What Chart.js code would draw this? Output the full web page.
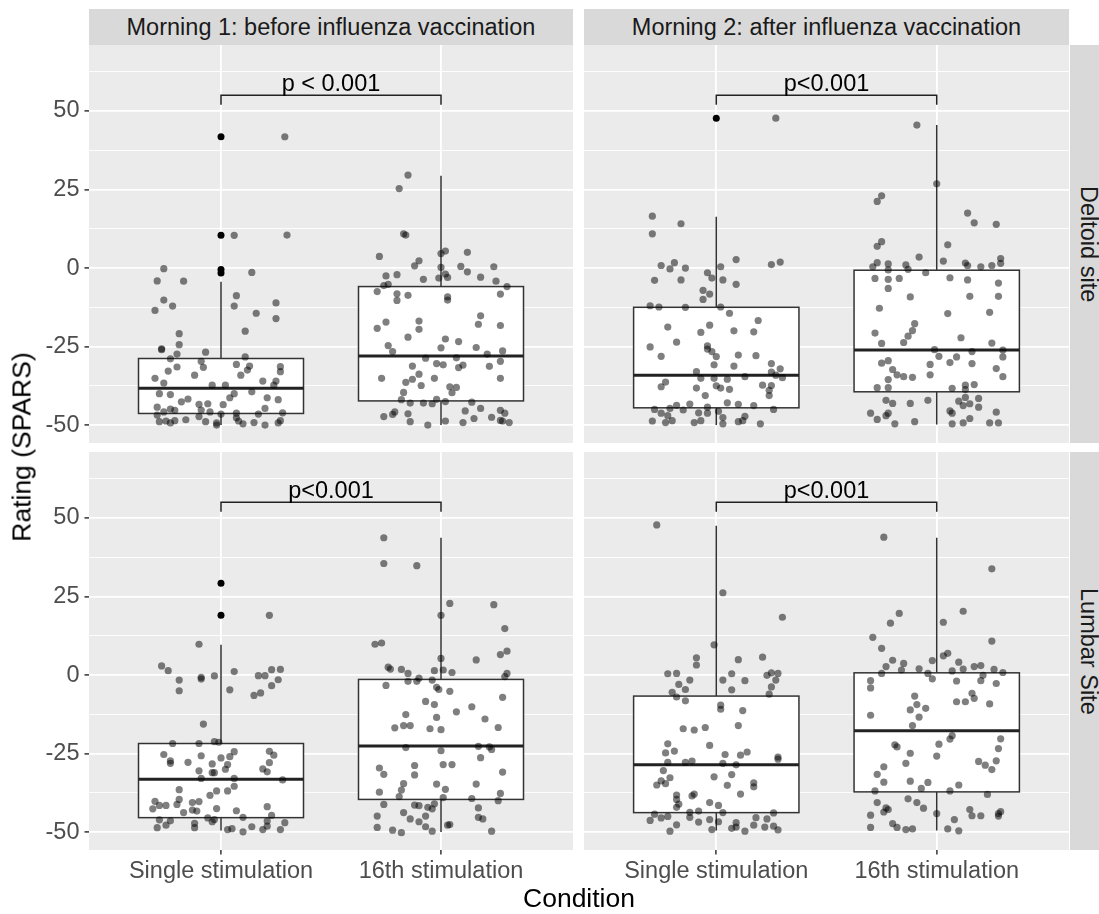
<!DOCTYPE html>
<html><head><meta charset="utf-8">
<script src="https://cdn.jsdelivr.net/npm/chart.js@4/dist/chart.umd.min.js"></script>
<style>
html,body{margin:0;padding:0;background:#fff;}
body{width:1099px;height:914px;position:relative;overflow:hidden;font-family:'Liberation Sans',Arial,Helvetica,sans-serif;}
canvas{position:absolute;}
.strip{position:absolute;background:#D9D9D9;color:#1A1A1A;font-size:23.5px;display:flex;align-items:center;justify-content:center;white-space:nowrap;}
.vstrip{writing-mode:vertical-rl;}
.title{position:absolute;color:#000;font-size:26.5px;white-space:nowrap;}
</style></head>
<body>
<div class="strip" id="stripTop1" style="left:89px;top:9px;width:484px;height:36px;"></div>
<div class="strip" id="stripTop2" style="left:584px;top:9px;width:485px;height:36px;"></div>
<div class="strip vstrip" id="stripRight1" style="left:1070px;top:45px;width:36px;height:398px;"></div>
<div class="strip vstrip" id="stripRight2" style="left:1070px;top:452px;width:36px;height:398px;"></div>
<canvas id="pTL" width="573" height="398" style="left:0;top:45px;"></canvas>
<canvas id="pTR" width="485" height="398" style="left:584px;top:45px;"></canvas>
<canvas id="pBL" width="573" height="440" style="left:0;top:452px;"></canvas>
<canvas id="pBR" width="485" height="440" style="left:584px;top:452px;"></canvas>
<div class="title" id="yTitle" style="left:22px;top:447px;transform:translate(-50%,-50%) rotate(-90deg);"></div>
<div class="title" id="xTitle" style="left:579px;top:898px;transform:translate(-50%,-50%);"></div>
<script>
// ---------- labels ----------
const categories = ['Single stimulation', '16th stimulation'];
const categoryPos = [1, 2];
const morningLabels = ['Morning 1: before influenza vaccination', 'Morning 2: after influenza vaccination'];
const siteLabels = ['Deltoid site', 'Lumbar Site'];
const xAxisTitle = 'Condition';
const yAxisTitle = 'Rating (SPARS)';
const yTickValues = [-50, -25, 0, 25, 50];
const yTickLabels = ['-50', '-25', '0', '25', '50'];
const yMinorValues = [-37.5, -12.5, 12.5, 37.5, 62.5];
const pLabels = ['p < 0.001', 'p<0.001', 'p<0.001', 'p<0.001'];
const pBracketY = 55;
const pBracketEnd = 52;

// ---------- box statistics: [lower whisker, Q1, median, Q3, upper whisker] ----------
const m1DeltSingleBox = [-50, -46.3, -38.3, -28.8, -4.4];
const m1DeltSingleOut = [41.8, 10.4, -0.5, -1.6];
const m1DeltSixteenBox = [-50, -42.3, -28.0, -5.9, 29.4];
const m1DeltSixteenOut = [];
const m2DeltSingleBox = [-50, -44.5, -34.1, -12.5, 16.3];
const m2DeltSingleOut = [47.7];
const m2DeltSixteenBox = [-49.8, -39.4, -26.1, -0.7, 45.5];
const m2DeltSixteenOut = [];
const m1LumbSingleBox = [-49.5, -45.4, -33.2, -21.8, 9.6];
const m1LumbSingleOut = [29.2, 19.0];
const m1LumbSixteenBox = [-50, -39.6, -22.6, -1.4, 43.7];
const m1LumbSixteenOut = [];
const m2LumbSingleBox = [-49.5, -43.8, -28.6, -6.7, 47.5];
const m2LumbSingleOut = [];
const m2LumbSixteenBox = [-49.5, -37.2, -17.7, 0.7, 43.7];
const m2LumbSixteenOut = [];

// ---------- individual ratings (Y) and their horizontal jitter (J) ----------
const m1DeltSingleY = [41.8,10.4,10.5,-0.2,-4.1,-4.2,-1.4,-10.2,-12.1,-13.5,-8.8,-12.1,-14.4,-11.1,-16.1,-20.1,-20.9,-24.4,-25.7,-26.0,-27.4,-26.8,-28.9,-31.5,-32.8,-29.7,-31.6,-34.1,-35.1,-36.6,-28.3,-30.7,-31.2,-32.5,-34.1,-31.4,-33.0,-36.0,-36.0,-37.3,-37.3,-37.3,-40.0,-41.3,-39.4,-41.3,-41.9,-40.0,-40.3,-42.6,-41.7,-43.4,-43.2,-43.5,-44.3,-44.9,-45.3,-45.2,-45.8,-46.5,-46.2,-44.7,-46.1,-46.5,-46.8,-48.9,-48.7,-49.3,-48.6,-48.3,-47.3,-48.9,-49.3,-50.0,-47.7,-48.7,-49.6,-49.2,-50.0,-49.3,-48.6,-45.8];
const m1DeltSingleJ = [0.29,0.06,0.30,-0.26,-0.29,-0.17,0.14,-0.26,-0.22,-0.30,0.07,0.06,0.16,0.25,0.25,0.11,-0.19,-0.19,-0.27,-0.27,-0.20,-0.07,-0.23,-0.20,-0.24,-0.09,-0.08,-0.12,-0.30,-0.26,0.11,0.07,0.13,0.12,0.09,0.27,0.27,0.19,0.25,0.24,-0.04,0.02,0.06,0.04,0.14,0.21,0.26,-0.28,-0.23,-0.18,-0.15,-0.10,-0.06,0.01,-0.29,-0.23,-0.21,-0.09,-0.05,0.00,0.07,0.20,0.28,0.17,-0.29,-0.28,-0.25,-0.23,-0.21,-0.16,-0.10,-0.07,-0.02,-0.02,0.07,0.08,0.10,0.15,0.20,0.26,0.27,-0.26];

const m1DeltSixteenY = [29.6,25.3,10.9,10.5,3.7,4.6,5.4,5.0,2.3,0.7,0.2,0.5,-1.2,0.4,-2.5,-2.1,-3.6,-3.2,-1.9,-3.0,-2.9,-4.2,-5.9,-5.6,-5.2,-7.5,-8.2,-10.3,-8.7,-9.2,-10.2,-8.3,-17.2,-19.2,-16.9,-19.5,-22.0,-15.2,-17.9,-18.3,-22.6,-23.4,-25.4,-25.3,-24.7,-26.6,-28.7,-28.6,-27.4,-26.4,-30.4,-30.8,-31.2,-30.9,-31.7,-31.3,-29.7,-35.1,-33.8,-35.4,-36.4,-35.1,-37.4,-37.8,-38.0,-39.7,-35.1,-39.6,-41.9,-43.0,-43.0,-43.2,-41.8,-42.5,-42.7,-45.8,-47.3,-46.6,-46.4,-48.9,-50.0,-48.7,-49.2,-45.5,-44.7,-47.9,-47.5,-45.3,-46.2,-48.7,-49.2,-48.5];
const m1DeltSixteenJ = [-0.15,-0.19,-0.17,-0.16,-0.28,0.00,0.02,0.12,-0.10,-0.12,0.00,0.09,0.12,0.24,-0.25,-0.20,-0.08,-0.01,0.02,0.03,0.18,0.25,0.30,-0.26,-0.24,-0.29,-0.20,-0.20,-0.15,0.03,0.03,0.27,-0.25,-0.29,-0.10,-0.10,-0.15,0.18,0.17,0.27,0.02,0.08,0.00,0.16,-0.24,-0.22,-0.07,0.07,0.21,0.28,-0.02,0.01,-0.13,0.10,0.08,0.22,0.27,-0.27,-0.10,-0.13,-0.16,-0.03,-0.09,0.04,0.07,0.05,0.27,-0.17,-0.18,-0.14,-0.08,-0.04,-0.02,0.02,0.14,-0.21,-0.26,-0.22,-0.15,-0.14,-0.06,0.02,0.10,0.11,0.18,0.15,0.23,0.27,0.29,0.28,0.31,0.27];

const m2DeltSingleY = [47.7,16.5,14.1,10.9,0.8,-0.3,1.7,0.0,-3.9,-3.8,-1.5,-3.2,0.4,-3.8,2.7,-5.2,1.1,1.9,-7.1,-8.3,-10.0,-12.0,-12.4,-12.5,-12.4,-14.4,-16.7,-18.8,-18.2,-20.5,-20.0,-20.3,-23.6,-25.1,-24.8,-25.8,-26.6,-28.2,-28.1,-27.7,-27.9,-30.8,-31.2,-30.4,-32.1,-33.1,-34.1,-34.9,-33.0,-35.1,-35.1,-35.4,-34.6,-36.3,-37.8,-38.2,-37.5,-38.2,-38.6,-40.6,-37.3,-37.4,-38.9,-40.6,-43.3,-43.7,-42.9,-43.4,-43.8,-44.3,-45.0,-46.2,-44.7,-47.0,-45.2,-46.1,-46.2,-45.6,-45.0,-48.7,-49.2,-48.6,-49.2,-48.6,-47.6,-49.6,-48.9,-48.6,-47.2,-49.6];
const m2DeltSingleJ = [0.27,-0.29,-0.16,-0.29,-0.25,-0.21,-0.19,-0.14,-0.28,-0.16,-0.04,-0.02,0.02,0.03,0.09,0.09,0.25,0.29,-0.06,-0.03,-0.06,-0.30,-0.26,-0.14,0.02,0.06,0.19,-0.22,-0.03,-0.07,0.08,0.17,-0.18,-0.30,-0.04,-0.04,-0.02,0.00,-0.25,0.10,0.18,-0.01,0.08,0.25,0.29,0.25,0.27,0.30,-0.09,-0.07,-0.01,0.05,0.13,-0.23,-0.25,-0.09,0.00,0.02,0.06,-0.05,0.21,0.25,0.24,0.24,-0.12,-0.18,0.05,0.10,0.17,-0.04,-0.28,-0.25,-0.21,-0.22,-0.15,-0.08,-0.04,0.01,0.26,-0.29,-0.23,-0.20,-0.10,-0.07,0.03,0.03,0.10,0.12,0.13,0.20];

const m2DeltSixteenY = [45.5,26.8,23.0,21.2,17.5,14.4,13.9,8.4,6.9,7.4,3.5,2.2,1.7,0.4,1.3,-0.6,1.0,-0.4,-1.5,1.6,0.8,0.4,0.8,1.5,3.0,-3.3,-3.6,-3.3,-6.5,-3.1,-3.8,-4.8,-9.2,-9.0,-9.0,-12.8,-14.5,-14.1,-17.7,-19.9,-21.7,-20.7,-24.0,-23.7,-22.2,-23.9,-26.0,-28.1,-28.3,-26.6,-26.1,-28.3,-30.3,-29.5,-30.1,-30.4,-32.3,-34.0,-34.6,-34.8,-30.7,-34.0,-32.0,-34.6,-35.5,-38.1,-38.1,-38.3,-37.3,-37.1,-38.7,-42.1,-43.1,-43.1,-42.1,-42.4,-41.2,-43.2,-41.5,-44.3,-43.8,-46.2,-48.2,-47.0,-46.2,-49.6,-48.9,-45.5,-46.2,-49.6,-49.3,-47.9,-45.9,-49.3,-49.3];
const m2DeltSixteenJ = [-0.09,0.00,-0.25,-0.27,0.14,0.17,0.27,-0.25,-0.27,0.05,-0.08,0.03,-0.27,-0.29,-0.22,-0.22,-0.14,-0.13,-0.05,0.13,0.14,0.20,0.25,0.29,0.29,-0.28,-0.22,-0.17,-0.22,0.06,0.14,0.28,-0.12,0.15,0.28,-0.26,0.05,0.24,-0.10,-0.11,-0.13,-0.28,-0.25,-0.15,0.11,0.25,-0.01,0.01,0.09,0.16,0.30,0.30,-0.25,-0.22,0.06,0.16,-0.20,-0.18,-0.15,-0.11,-0.03,-0.03,0.27,0.30,-0.22,-0.27,-0.22,0.07,0.13,0.17,0.13,-0.23,-0.20,-0.12,-0.04,0.10,0.13,0.15,0.19,0.19,0.12,-0.30,-0.27,-0.23,-0.22,-0.19,-0.10,0.06,0.07,0.07,0.12,0.15,0.27,0.24,0.28];

const m1LumbSingleY = [19.0,9.8,2.9,1.4,-1.6,-5.0,-0.7,-1.3,-0.3,1.1,-4.7,-0.2,-0.2,1.7,1.8,-1.5,-3.4,-6.5,-5.7,-15.6,-21.8,-21.8,-21.2,-21.4,-25.3,-28.1,-27.3,-27.8,-25.7,-28.3,-26.4,-26.0,-24.4,-28.5,-30.0,-30.5,-31.1,-31.1,-32.9,-32.9,-24.3,-25.5,-27.9,-29.9,-30.8,-33.4,-36.5,-39.6,-40.2,-41.5,-42.6,-41.5,-41.2,-43.8,-40.6,-40.3,-43.0,-43.3,-38.3,-36.9,-36.9,-35.4,-42.5,-43.2,-41.9,-44.7,-45.3,-46.1,-46.4,-48.6,-47.8,-47.2,-48.6,-45.5,-46.7,-46.0,-49.2,-48.9,-49.9,-48.3,-49.2,-48.1,-46.5,-47.0,-49.2];
const m1LumbSingleJ = [0.22,-0.10,-0.27,-0.24,-0.19,-0.19,-0.09,-0.09,-0.03,0.06,0.04,0.17,0.20,0.23,0.27,0.26,0.23,0.15,0.18,-0.08,-0.22,-0.10,-0.03,-0.01,-0.26,-0.23,-0.23,-0.15,-0.09,-0.04,0.00,0.04,0.06,0.03,0.02,-0.10,-0.04,-0.03,-0.09,0.06,0.22,0.24,0.22,0.19,0.21,0.28,-0.19,-0.19,-0.30,-0.28,-0.31,-0.25,-0.20,-0.17,-0.13,-0.10,-0.13,-0.11,-0.05,-0.02,0.03,0.06,-0.02,0.07,0.21,0.23,0.10,-0.28,-0.23,-0.29,-0.25,-0.12,-0.12,-0.06,-0.04,-0.03,0.03,0.05,0.10,0.14,0.19,0.21,0.21,0.29,0.27];

const m1LumbSixteenY = [43.7,35.5,34.8,22.8,22.4,19.0,14.8,9.8,10.2,5.3,4.8,6.5,7.6,2.5,1.9,1.8,0.5,-1.0,-2.0,-2.0,1.4,1.6,0.8,-1.6,-3.9,-4.6,-5.2,0.5,-0.5,-3.3,-7.1,-8.4,-9.4,-10.1,-11.7,-12.6,-13.5,-14.0,-16.7,-16.8,-16.1,-16.1,-17.1,-17.4,-23.1,-24.1,-22.7,-22.9,-23.7,-26.3,-29.6,-31.6,-28.8,-31.8,-28.5,-28.5,-30.9,-34.6,-36.6,-38.7,-37.3,-34.7,-36.4,-39.0,-34.7,-37.7,-40.0,-39.3,-41.2,-44.9,-48.5,-49.4,-50.2,-43.8,-45.8,-41.4,-41.6,-46.7,-44.9,-48.3,-42.1,-42.6,-41.0,-49.7,-47.8,-47.6,-42.3,-45.3,-45.8,-49.7];
const m1LumbSixteenJ = [-0.26,-0.26,-0.11,0.04,0.24,0.00,0.29,-0.30,-0.27,0.00,0.16,0.27,0.30,-0.24,-0.23,-0.18,-0.15,-0.10,-0.11,-0.15,-0.03,0.01,0.05,-0.04,-0.02,-0.01,0.04,0.30,0.29,-0.25,0.28,-0.07,-0.03,0.14,0.07,-0.16,-0.02,0.20,0.26,-0.21,-0.17,-0.14,-0.05,0.00,-0.16,0.00,0.17,0.22,0.23,0.18,-0.28,-0.26,-0.12,-0.12,0.01,0.05,0.28,-0.17,-0.18,-0.19,-0.28,-0.02,0.02,0.01,0.16,0.27,0.26,0.14,-0.26,-0.29,-0.29,-0.22,-0.18,-0.17,-0.14,-0.12,-0.10,-0.10,-0.07,-0.07,-0.06,-0.04,-0.03,-0.04,0.03,0.04,0.17,0.17,0.19,0.23];

const m2LumbSingleY = [47.8,26.2,18.4,9.6,5.5,3.2,4.9,5.7,0.4,0.5,-1.6,-3.0,-4.6,-5.5,-7.0,-8.2,0.4,-1.6,-1.8,-4.7,-0.1,0.7,0.5,-1.6,-3.8,-6.1,-9.6,-10.9,-11.3,-17.1,-17.5,-16.7,-16.1,-22.4,-21.9,-24.8,-24.2,-27.8,-27.8,-27.4,-25.3,-28.1,-25.5,-24.5,-28.6,-26.1,-26.8,-30.4,-35.0,-33.7,-34.6,-32.7,-32.4,-31.7,-35.1,-34.3,-35.6,-37.9,-38.2,-39.6,-42.1,-41.1,-38.5,-37.9,-40.6,-41.5,-43.8,-44.3,-46.3,-45.5,-45.0,-43.7,-45.3,-43.3,-46.8,-46.0,-46.7,-47.0,-48.4,-45.4,-47.8,-45.8,-43.9,-48.4,-48.1,-49.3,-49.7,-47.7,-49.2,-48.8,-49.7];
const m2LumbSingleJ = [-0.27,0.03,0.30,-0.01,-0.09,-0.09,0.10,0.21,-0.22,-0.18,-0.12,-0.17,-0.14,-0.20,-0.18,-0.14,0.07,0.03,0.13,0.07,0.23,0.25,0.28,0.27,0.25,0.24,0.02,0.02,0.12,-0.15,-0.10,-0.05,0.10,-0.03,-0.22,-0.23,-0.19,-0.22,-0.14,-0.11,0.04,0.03,0.11,0.14,0.09,0.28,0.28,-0.24,-0.27,-0.25,-0.23,-0.21,-0.01,0.07,0.05,0.17,0.17,0.11,-0.18,-0.18,-0.18,-0.17,-0.11,-0.10,-0.03,0.01,0.03,-0.28,-0.30,-0.25,-0.22,-0.12,-0.12,-0.08,-0.08,-0.03,0.01,0.09,0.09,0.18,0.17,0.23,0.26,0.22,0.26,0.28,-0.21,-0.18,-0.02,0.07,0.13];

const m2LumbSixteenY = [43.9,33.8,19.6,20.3,16.5,16.8,12.0,10.8,8.5,4.7,3.7,4.6,6.1,6.9,4.1,2.7,0.5,1.6,2.0,0.5,-1.2,1.3,-1.9,1.9,2.7,3.0,1.8,0.8,-0.1,-1.8,-2.7,-1.8,-4.1,-6.7,-9.4,-11.1,-10.6,-13.4,-16.1,-12.8,-8.5,-8.5,-5.8,-7.4,-9.2,-22.2,-22.9,-24.9,-28.1,-22.0,-25.8,-20.4,-19.3,-20.3,-23.4,-27.3,-27.5,-28.7,-30.1,-31.6,-29.2,-34.1,-33.8,-34.2,-36.1,-36.9,-35.0,-36.9,-38.0,-40.6,-39.4,-40.6,-42.4,-42.3,-43.6,-42.8,-44.6,-48.5,-47.3,-48.5,-49.2,-49.0,-44.1,-46.0,-49.0,-49.6,-42.8,-44.8,-44.8,-44.9,-43.5,-44.1];
const m2LumbSixteenJ = [-0.24,0.25,-0.17,0.12,-0.21,0.03,-0.29,0.25,-0.25,-0.20,-0.15,-0.02,0.03,0.05,0.10,-0.23,-0.25,-0.16,-0.08,-0.04,-0.02,0.07,0.09,0.12,0.17,0.20,0.26,0.30,0.21,0.20,0.27,-0.30,-0.30,-0.10,-0.09,-0.12,-0.05,-0.08,-0.11,-0.30,0.09,0.13,0.16,0.17,0.24,-0.19,-0.18,-0.12,-0.14,0.01,0.00,0.06,0.07,0.29,0.28,0.27,0.19,0.22,0.25,-0.27,-0.24,-0.24,-0.12,-0.04,-0.07,0.06,0.10,-0.28,0.23,-0.27,-0.13,-0.09,-0.06,-0.23,-0.24,-0.22,-0.30,-0.30,-0.20,-0.18,-0.14,-0.11,0.00,0.08,0.05,0.10,0.15,0.16,0.20,0.28,0.29,0.28];

// ---------- setup ----------
const FONT = "'Liberation Sans', Arial, Helvetica, sans-serif";
const X_MIN = 0.4, X_MAX = 2.6, Y_MIN = -55.7, Y_MAX = 71.0;
const BOX_HALF = 0.375;
const yAllTicks = yTickValues.concat(yMinorValues).sort((a, b) => a - b);

document.getElementById('stripTop1').textContent = morningLabels[0];
document.getElementById('stripTop2').textContent = morningLabels[1];
document.getElementById('stripRight1').textContent = siteLabels[0];
document.getElementById('stripRight2').textContent = siteLabels[1];
document.getElementById('xTitle').textContent = xAxisTitle;
document.getElementById('yTitle').textContent = yAxisTitle;

function jitterPoints(pos, ys, js) {
  const n = Math.min(ys.length, js.length);
  const pts = [];
  for (let i = 0; i < n; i++) pts.push({ x: pos + js[i], y: ys[i] });
  return pts;
}
const isMajor = v => yTickValues.indexOf(v) >= 0;

function makePanel(id, groups, pLabel, showX, showY) {
  const boxPlugin = {
    id: 'boxes',
    beforeDatasetsDraw(chart) {
      const ctx = chart.ctx, xs = chart.scales.x, ys = chart.scales.y;
      ctx.save();
      groups.forEach((g, gi) => {
        const pos = categoryPos[gi];
        const [lo, q1, med, q3, hi] = g.box;
        const xc = xs.getPixelForValue(pos);
        const xl = xs.getPixelForValue(pos - BOX_HALF);
        const xr = xs.getPixelForValue(pos + BOX_HALF);
        const yq1 = ys.getPixelForValue(q1), yq3 = ys.getPixelForValue(q3);
        ctx.strokeStyle = '#333333';
        ctx.lineWidth = 1.5;
        ctx.beginPath();
        ctx.moveTo(xc, yq3); ctx.lineTo(xc, ys.getPixelForValue(hi));
        ctx.moveTo(xc, yq1); ctx.lineTo(xc, ys.getPixelForValue(lo));
        ctx.stroke();
        g.out.forEach(v => {
          ctx.fillStyle = '#000';
          ctx.beginPath();
          ctx.arc(xc, ys.getPixelForValue(v), 3.5, 0, Math.PI * 2);
          ctx.fill();
        });
        ctx.fillStyle = '#ffffff';
        ctx.fillRect(xl, yq3, xr - xl, yq1 - yq3);
        ctx.strokeRect(xl, yq3, xr - xl, yq1 - yq3);
        ctx.lineWidth = 3;
        ctx.strokeStyle = '#222222';
        const ym = ys.getPixelForValue(med);
        ctx.beginPath(); ctx.moveTo(xl, ym); ctx.lineTo(xr, ym); ctx.stroke();
      });
      ctx.restore();
    }
  };
  const sigPlugin = {
    id: 'sig',
    afterDatasetsDraw(chart) {
      const ctx = chart.ctx, xs = chart.scales.x, ys = chart.scales.y;
      const x1 = xs.getPixelForValue(categoryPos[0]), x2 = xs.getPixelForValue(categoryPos[1]);
      const yb = ys.getPixelForValue(pBracketY), ye = ys.getPixelForValue(pBracketEnd);
      ctx.save();
      ctx.strokeStyle = '#222222';
      ctx.lineWidth = 1.5;
      ctx.beginPath();
      ctx.moveTo(x1, ye); ctx.lineTo(x1, yb); ctx.lineTo(x2, yb); ctx.lineTo(x2, ye);
      ctx.stroke();
      ctx.fillStyle = '#000';
      ctx.font = '23.5px ' + FONT;
      ctx.textAlign = 'center';
      ctx.textBaseline = 'alphabetic';
      ctx.fillText(pLabel, (x1 + x2) / 2, yb - 4);
      ctx.restore();
    }
  };
  const bgPlugin = {
    id: 'bg',
    beforeDraw(chart) {
      const a = chart.chartArea, ctx = chart.ctx;
      ctx.save();
      ctx.fillStyle = '#EBEBEB';
      ctx.fillRect(a.left, a.top, a.right - a.left, a.bottom - a.top);
      ctx.restore();
    }
  };
  const datasets = groups.map((g, gi) => ({
    data: jitterPoints(categoryPos[gi], g.y, g.j),
    pointRadius: 3.6,
    pointHoverRadius: 3.6,
    pointBackgroundColor: 'rgba(0,0,0,0.5)',
    pointBorderWidth: 0,
    showLine: false
  }));
  return new Chart(document.getElementById(id), {
    type: 'scatter',
    data: { datasets },
    plugins: [bgPlugin, boxPlugin, sigPlugin],
    options: {
      responsive: false,
      animation: false,
      devicePixelRatio: 1,
      events: [],
      layout: { padding: 0, autoPadding: false },
      plugins: { legend: { display: false }, tooltip: { enabled: false } },
      scales: {
        x: {
          type: 'linear', min: X_MIN, max: X_MAX,
          afterBuildTicks: s => { s.ticks = categoryPos.map(v => ({ value: v })); },
          afterFit: s => { s.height = showX ? 42 : 0; s.paddingLeft = 0; s.paddingRight = 0; },
          border: { display: false },
          grid: { color: '#ffffff', lineWidth: 1.8, drawTicks: showX, tickLength: 4.5, tickColor: '#333333', tickWidth: 1.5 },
          ticks: {
            display: showX, autoSkip: false, maxRotation: 0, minRotation: 0, padding: 3,
            color: '#4D4D4D', font: { family: FONT, size: 23.5 },
            callback: (v, i) => categories[i]
          }
        },
        y: {
          type: 'linear', min: Y_MIN, max: Y_MAX,
          afterBuildTicks: s => { s.ticks = yAllTicks.map(v => ({ value: v })); },
          afterFit: s => { s.width = showY ? 89 : 0; s.paddingTop = 0; s.paddingBottom = 0; },
          border: { display: false },
          grid: {
            color: '#ffffff',
            lineWidth: c => (c.tick && isMajor(c.tick.value)) ? 1.8 : 0.9,
            drawTicks: showY, tickLength: 4.5, tickWidth: 1.5,
            tickColor: c => (c.tick && isMajor(c.tick.value)) ? '#333333' : 'rgba(0,0,0,0)'
          },
          ticks: {
            display: showY, autoSkip: false, padding: 5,
            color: '#4D4D4D', font: { family: FONT, size: 23.5 },
            callback: v => { const k = yTickValues.indexOf(v); return k >= 0 ? yTickLabels[k] : ''; }
          }
        }
      }
    }
  });
}

makePanel('pTL', [
  { y: m1DeltSingleY, j: m1DeltSingleJ, box: m1DeltSingleBox, out: m1DeltSingleOut },
  { y: m1DeltSixteenY, j: m1DeltSixteenJ, box: m1DeltSixteenBox, out: m1DeltSixteenOut }
], pLabels[0], false, true);
makePanel('pTR', [
  { y: m2DeltSingleY, j: m2DeltSingleJ, box: m2DeltSingleBox, out: m2DeltSingleOut },
  { y: m2DeltSixteenY, j: m2DeltSixteenJ, box: m2DeltSixteenBox, out: m2DeltSixteenOut }
], pLabels[1], false, false);
makePanel('pBL', [
  { y: m1LumbSingleY, j: m1LumbSingleJ, box: m1LumbSingleBox, out: m1LumbSingleOut },
  { y: m1LumbSixteenY, j: m1LumbSixteenJ, box: m1LumbSixteenBox, out: m1LumbSixteenOut }
], pLabels[2], true, true);
makePanel('pBR', [
  { y: m2LumbSingleY, j: m2LumbSingleJ, box: m2LumbSingleBox, out: m2LumbSingleOut },
  { y: m2LumbSixteenY, j: m2LumbSixteenJ, box: m2LumbSixteenBox, out: m2LumbSixteenOut }
], pLabels[3], true, false);
</script>
</body></html>
